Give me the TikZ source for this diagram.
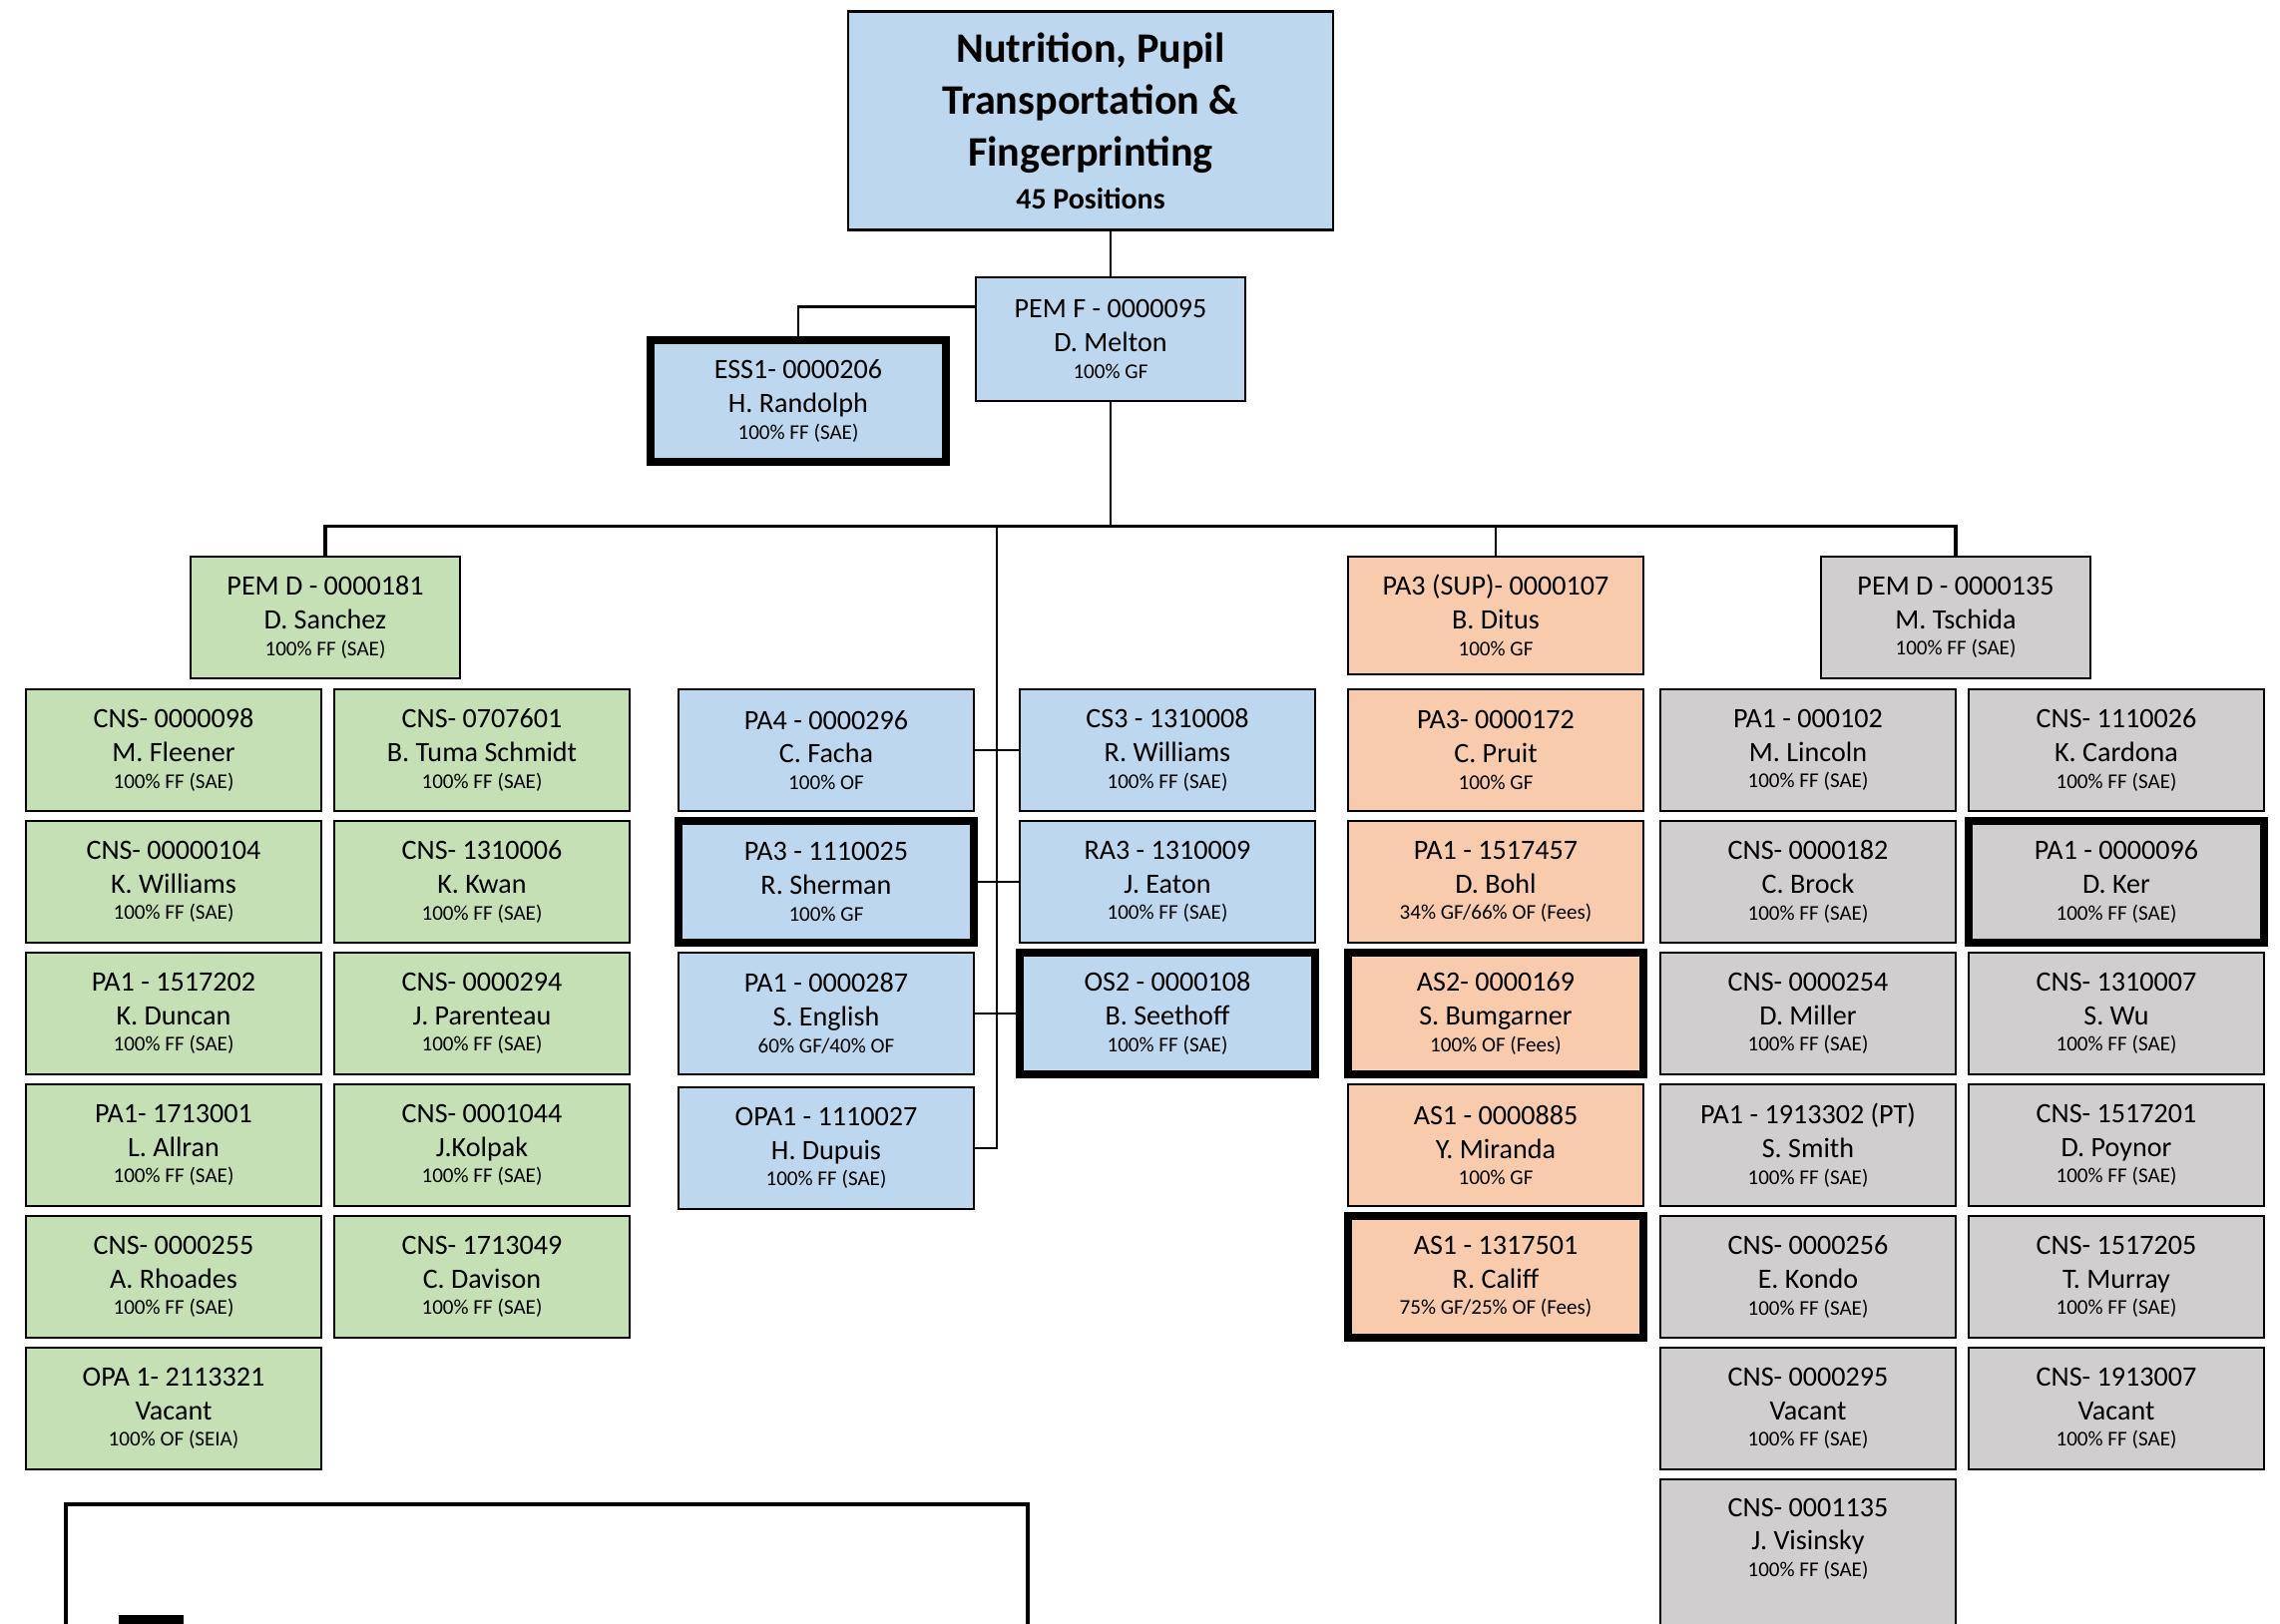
\documentclass[tikz,border=0pt]{standalone}
\usepackage{fontspec}
\setmainfont{Carlito}
\usetikzlibrary{positioning}
\definecolor{boxblue}{HTML}{BDD7EE}
\definecolor{boxgreen}{HTML}{C5E0B4}
\definecolor{boxorange}{HTML}{F8CBAD}
\definecolor{boxgray}{HTML}{D0CECE}
\newcommand{\posn}[3]{#1\\#2\\[-2pt]{\fontsize{6}{7}\selectfont #3}}

\begin{document}
\begin{tikzpicture}[
  node distance=1mm,
  box/.style={
    rectangle, draw, line width=0.7pt, align=flush center, outer sep=0pt,
    text width=2.8cm, inner xsep=0.8mm, inner ysep=1pt,
    minimum height=1.22cm, font=\fontsize{8}{9.6}\selectfont
  },
  head/.style={box, text width=2.54cm},
  heavy/.style={line width=2.2pt},
  grn/.style={box, fill=boxgreen},
  blu/.style={box, fill=boxblue},
  org/.style={box, fill=boxorange},
  gry/.style={box, fill=boxgray},
  link/.style={line width=0.7pt}
]
\useasboundingbox (0,0) rectangle (22.85,-16.27);
\clip (0,0) rectangle (22.85,-16.27);

% top of the chart
\node (title) [box, fill=boxblue, text width=4.7cm, minimum height=2.19cm,
  font=\fontsize{12}{14.8}\selectfont\bfseries] at (10.93,-1.21)
  {Nutrition, Pupil\\Transportation \&\\Fingerprinting\\[-2.5pt]{\fontsize{8.5}{10}\selectfont 45 Positions}};
\node (pemf) [head, fill=boxblue, minimum height=1.24cm] at (11.13,-3.40)
  {\posn{PEM F - 0000095}{D. Melton}{100\% GF}};
\node (ess) [blu, heavy] at (8.00,-4.02)
  {\posn{ESS1- 0000206}{H. Randolph}{100\% FF (SAE)}};

\coordinate (bus) at (0,-5.275);
\node (sanchez) [head, fill=boxgreen] at (3.26,-6.19)
  {\posn{PEM D - 0000181}{D. Sanchez}{100\% FF (SAE)}};
\node (ditus) [org, minimum height=1.18cm] at (14.99,-6.17)
  {\posn{PA3 (SUP)- 0000107}{B. Ditus}{100\% GF}};
\node (tschida) [head, fill=boxgray] at (19.60,-6.19)
  {\posn{PEM D - 0000135}{M. Tschida}{100\% FF (SAE)}};

% green group
\node (g1) [grn, anchor=north] at (1.74,-6.91)
  {\posn{CNS- 0000098}{M. Fleener}{100\% FF (SAE)}};
\node (g2) [grn, below=of g1]
  {\posn{CNS- 00000104}{K. Williams}{100\% FF (SAE)}};
\node (g3) [grn, below=of g2]
  {\posn{PA1 - 1517202}{K. Duncan}{100\% FF (SAE)}};
\node (g4) [grn, below=of g3]
  {\posn{PA1- 1713001}{L. Allran}{100\% FF (SAE)}};
\node (g5) [grn, below=of g4]
  {\posn{CNS- 0000255}{A. Rhoades}{100\% FF (SAE)}};
\node (g6) [grn, below=of g5]
  {\posn{OPA 1- 2113321}{Vacant}{100\% OF (SEIA)}};
\node (h1) [grn, right=1.3mm of g1]
  {\posn{CNS- 0707601}{B. Tuma Schmidt}{100\% FF (SAE)}};
\node (h2) [grn, below=of h1]
  {\posn{CNS- 1310006}{K. Kwan}{100\% FF (SAE)}};
\node (h3) [grn, below=of h2]
  {\posn{CNS- 0000294}{J. Parenteau}{100\% FF (SAE)}};
\node (h4) [grn, below=of h3]
  {\posn{CNS- 0001044}{J.Kolpak}{100\% FF (SAE)}};
\node (h5) [grn, below=of h4]
  {\posn{CNS- 1713049}{C. Davison}{100\% FF (SAE)}};

% blue group
\node (pa4) [blu, anchor=north] at (8.28,-6.91)
  {\posn{PA4 - 0000296}{C. Facha}{100\% OF}};
\node (pa3) [blu, heavy, below=of pa4]
  {\posn{PA3 - 1110025}{R. Sherman}{100\% GF}};
\node (pa1) [blu, below=of pa3]
  {\posn{PA1 - 0000287}{S. English}{60\% GF/40\% OF}};
\node (opa1) [blu, below=1.3mm of pa1]
  {\posn{OPA1 - 1110027}{H. Dupuis}{100\% FF (SAE)}};
\node (cs3) [blu, right=4.6mm of pa4]
  {\posn{CS3 - 1310008}{R. Williams}{100\% FF (SAE)}};
\node (ra3) [blu, below=of cs3]
  {\posn{RA3 - 1310009}{J. Eaton}{100\% FF (SAE)}};
\node (os2) [blu, heavy, below=of ra3]
  {\posn{OS2 - 0000108}{B. Seethoff}{100\% FF (SAE)}};

% orange group
\node (o1) [org, anchor=north] at (14.99,-6.91)
  {\posn{PA3- 0000172}{C. Pruit}{100\% GF}};
\node (o2) [org, below=of o1]
  {\posn{PA1 - 1517457}{D. Bohl}{34\% GF/66\% OF (Fees)}};
\node (o3) [org, heavy, below=of o2]
  {\posn{AS2- 0000169}{S. Bumgarner}{100\% OF (Fees)}};
\node (o4) [org, below=of o3]
  {\posn{AS1 - 0000885}{Y. Miranda}{100\% GF}};
\node (o5) [org, heavy, below=of o4]
  {\posn{AS1 - 1317501}{R. Califf}{75\% GF/25\% OF (Fees)}};

% gray group
\node (k1) [gry, anchor=north] at (18.12,-6.91)
  {\posn{PA1 - 000102}{M. Lincoln}{100\% FF (SAE)}};
\node (k2) [gry, below=of k1]
  {\posn{CNS- 0000182}{C. Brock}{100\% FF (SAE)}};
\node (k3) [gry, below=of k2]
  {\posn{CNS- 0000254}{D. Miller}{100\% FF (SAE)}};
\node (k4) [gry, below=of k3]
  {\posn{PA1 - 1913302 (PT)}{S. Smith}{100\% FF (SAE)}};
\node (k5) [gry, below=of k4]
  {\posn{CNS- 0000256}{E. Kondo}{100\% FF (SAE)}};
\node (k6) [gry, below=of k5]
  {\posn{CNS- 0000295}{Vacant}{100\% FF (SAE)}};
\node (k7) [gry, below=of k6, minimum height=1.5cm]
  {\posn{CNS- 0001135}{J. Visinsky}{100\% FF (SAE)}\\\mbox{}};
\node (m1) [gry, right=1.3mm of k1]
  {\posn{CNS- 1110026}{K. Cardona}{100\% FF (SAE)}};
\node (m2) [gry, heavy, below=of m1]
  {\posn{PA1 - 0000096}{D. Ker}{100\% FF (SAE)}};
\node (m3) [gry, below=of m2]
  {\posn{CNS- 1310007}{S. Wu}{100\% FF (SAE)}};
\node (m4) [gry, below=of m3]
  {\posn{CNS- 1517201}{D. Poynor}{100\% FF (SAE)}};
\node (m5) [gry, below=of m4]
  {\posn{CNS- 1517205}{T. Murray}{100\% FF (SAE)}};
\node (m6) [gry, below=of m5]
  {\posn{CNS- 1913007}{Vacant}{100\% FF (SAE)}};

% connectors
\draw[link] (pemf.north) -- (pemf.north |- title.south);
\draw[link] ([yshift=3.25mm]pemf.west) -| (ess.north);
\draw[link] (pemf.south) -- (pemf.south |- bus);
\draw[link, line width=0.9pt] (sanchez.north) |- (tschida.north |- bus) -- (tschida.north);
\draw[link] (ditus.north) -- (ditus.north |- bus);
\coordinate (mid) at (9.99,-5.275);
\draw[link] (mid) -- (mid |- opa1.east) -- (opa1.east);
\draw[link] (pa4.east) -- (cs3.west);
\draw[link] (pa3.east) -- (ra3.west);
\draw[link] (pa1.east) -- (os2.west);

% legend box, cut off at the page edge
\draw[line width=1.3pt] (0.66,-16.6) |- (10.30,-15.08) -- (10.30,-16.6);
\fill (1.19,-16.19) rectangle (1.84,-16.5);
\end{tikzpicture}
\end{document}
